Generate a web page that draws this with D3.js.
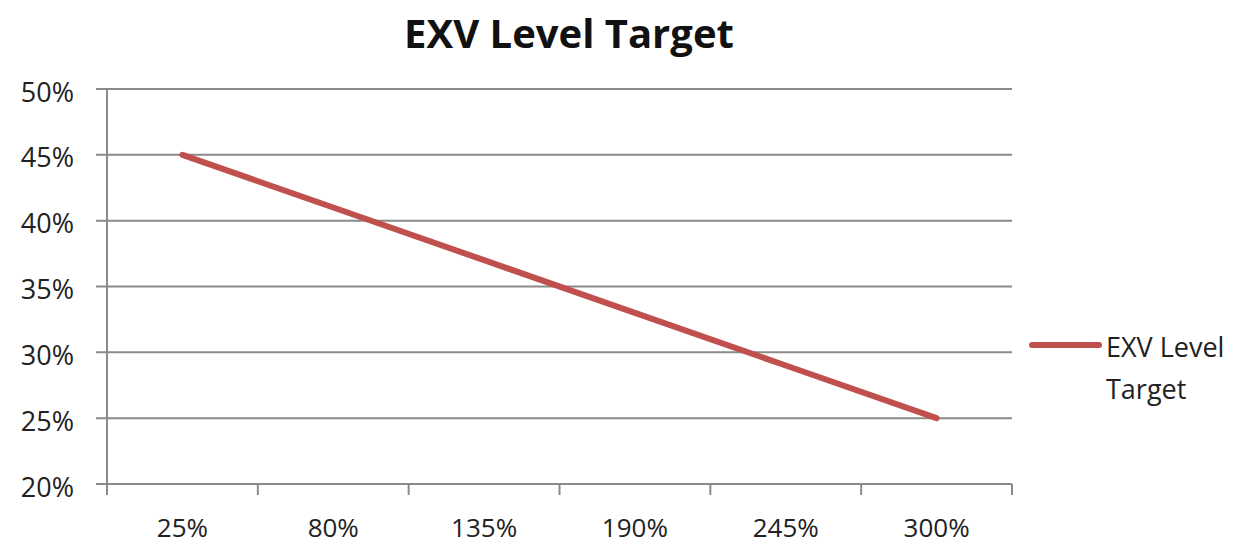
<!DOCTYPE html>
<html><head><meta charset="utf-8">
<script src="https://cdn.jsdelivr.net/npm/d3@7"></script>
<style>body{margin:0;background:#fff}svg{display:block}</style>
</head><body>
<svg id="c" width="1258" height="546"></svg>
<script>
const categories = ["25%","80%","135%","190%","245%","300%"];
const values = [0.45,0.41,0.37,0.33,0.29,0.25];
const yTicks = [0.20,0.25,0.30,0.35,0.40,0.45,0.50];
const seriesName = "EXV Level Target";
const title = "EXV Level Target";

(function(){
const svg = d3.select("#c");
const font = "'Open Sans', sans-serif";
const pLeft = 107, pRight = 1012, pTop = 89, pBottom = 484;
const x = d3.scaleBand().domain(categories).range([pLeft, pRight]).padding(0);
const y = d3.scaleLinear().domain([0.2, 0.5]).range([pBottom, pTop]);
const grey = "#8a8a8a";

svg.append("g").selectAll("line").data(yTicks).join("line")
  .attr("x1", pLeft - 11).attr("x2", pRight)
  .attr("y1", d => y(d)).attr("y2", d => y(d))
  .attr("stroke", grey).attr("stroke-width", 2);

svg.append("line").attr("x1", pLeft).attr("x2", pLeft).attr("y1", pTop).attr("y2", pBottom + 11)
  .attr("stroke", grey).attr("stroke-width", 2);

const bounds = categories.map(c => x(c)).concat([pRight]);
svg.append("g").selectAll("line").data(bounds.slice(1)).join("line")
  .attr("x1", d => d).attr("x2", d => d).attr("y1", pBottom).attr("y2", pBottom + 11)
  .attr("stroke", grey).attr("stroke-width", 2);

svg.append("g").selectAll("text").data(yTicks).join("text")
  .attr("x", 74).attr("y", d => y(d) + 2)
  .attr("text-anchor", "end").attr("dominant-baseline", "central")
  .attr("font-family", font).attr("font-size", 27).attr("fill", "#222")
  .text(d => d3.format(".0%")(d));

svg.append("g").selectAll("text").data(categories).join("text")
  .attr("x", d => x(d) + x.bandwidth() / 2).attr("y", 537)
  .attr("text-anchor", "middle")
  .attr("font-family", font).attr("font-size", 26).attr("fill", "#222")
  .text(d => d);

const line = d3.line().x((d, i) => x(categories[i]) + x.bandwidth() / 2).y(d => y(d));
svg.append("path").datum(values).attr("d", line)
  .attr("fill", "none").attr("stroke", "#C0504D").attr("stroke-width", 6)
  .attr("stroke-linecap", "round");

svg.append("text").attr("x", 569).attr("y", 32)
  .attr("text-anchor", "middle").attr("dominant-baseline", "central")
  .attr("font-family", font).attr("font-weight", "bold").attr("font-size", 40).attr("fill", "#111")
  .text(title);

svg.append("line").attr("x1", 1032).attr("x2", 1099).attr("y1", 345).attr("y2", 345)
  .attr("stroke", "#C0504D").attr("stroke-width", 6).attr("stroke-linecap", "round");
const lt = svg.append("text").attr("font-family", font).attr("font-size", 27).attr("fill", "#222");
lt.append("tspan").attr("x", 1106).attr("y", 357).text("EXV Level");
lt.append("tspan").attr("x", 1106).attr("y", 399).text("Target");
})();
</script>
</body></html>
